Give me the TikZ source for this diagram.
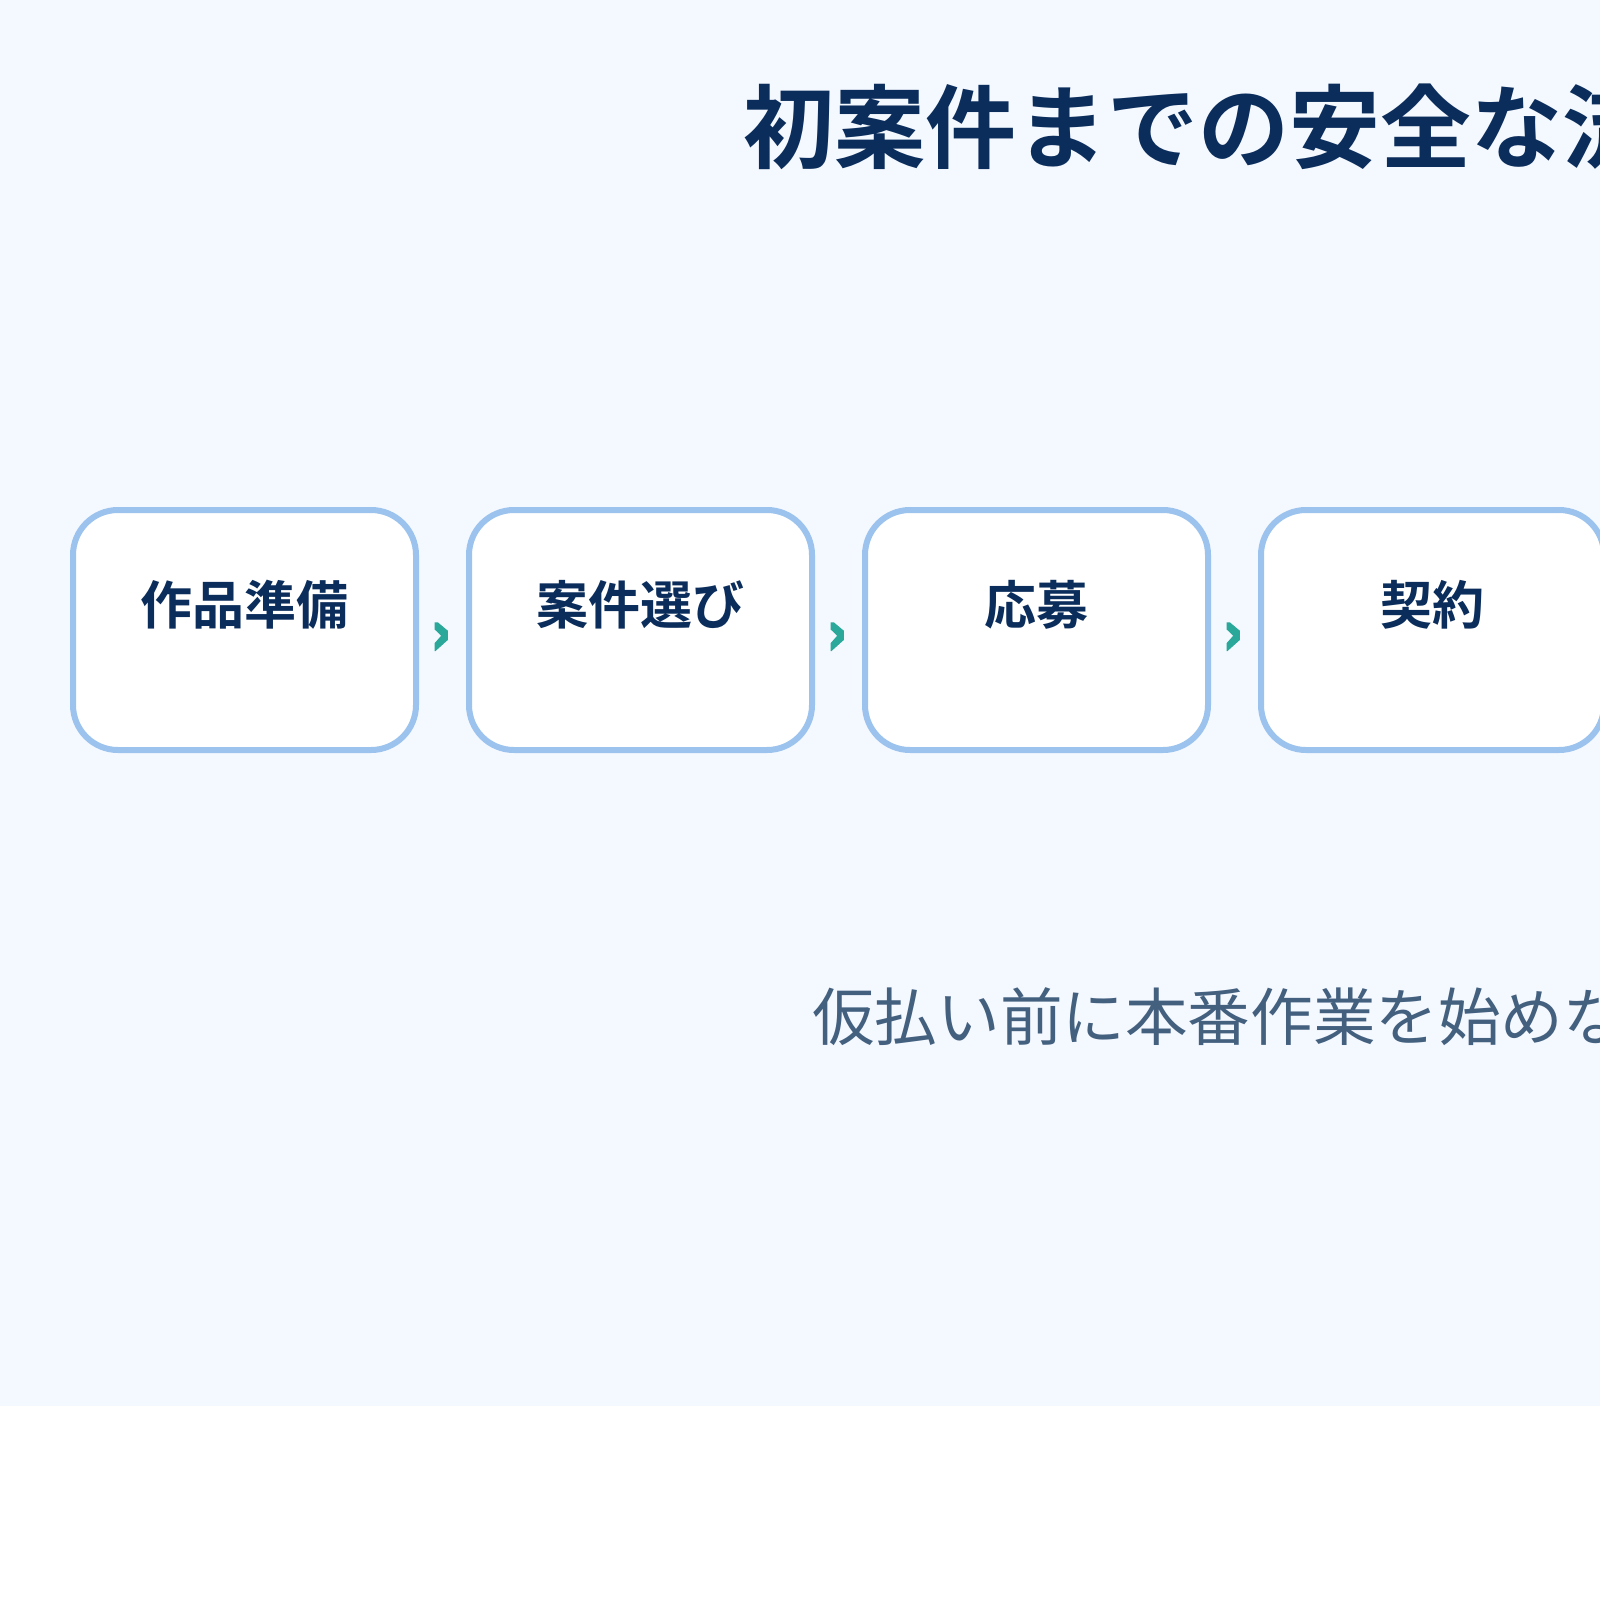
\documentclass[tikz,border=0pt]{standalone}
\usepackage{fontspec}
\newfontfamily\jp{Noto Sans CJK JP}[BoldFont={Noto Sans CJK JP Bold}]
\usetikzlibrary{calc}
\definecolor{bgblue}{HTML}{F4F8FF}
\definecolor{navy}{HTML}{0B2D5B}
\definecolor{boxline}{HTML}{9CC3EE}
\definecolor{slate}{HTML}{43607F}
\definecolor{teal}{HTML}{2AA89A}
\tikzset{
  stepbox/.style={draw=boxline, line width=6pt, fill=white, rounded corners=45pt,
    minimum width=343pt, minimum height=240pt, inner sep=0pt},
  boxtext/.style={inner sep=0pt, text=navy, font=\jp\bfseries\fontsize{52}{60}\selectfont},
  titletext/.style={inner sep=0pt, anchor=west, text=navy, font=\jp\bfseries\fontsize{91}{100}\selectfont},
  notetext/.style={inner sep=0pt, anchor=west, text=slate, font=\jp\fontsize{62.6}{70}\selectfont},
  chev/.style={fill=teal}
}
\begin{document}
\begin{tikzpicture}[x=1pt,y=-1pt]
\useasboundingbox (0,0) rectangle (1600,1600);
\clip (0,0) rectangle (1600,1600);
\fill[white] (0,0) rectangle (1600,1600);
\fill[bgblue] (0,0) rectangle (1606,1406);
\node[titletext] (title) at (743,126.5) {初案件までの安全な流れ};
\node[stepbox] (b1) at (244.5,630) {};
\node[stepbox] (b2) at (640.5,630) {};
\node[stepbox] (b3) at (1036.5,630) {};
\node[stepbox] (b4) at (1432.5,630) {};
\node[boxtext] (t1) at (244.5,605) {作品準備};
\node[boxtext] (t2) at (640.5,605) {案件選び};
\node[boxtext] (t3) at (1036.5,605) {応募};
\node[boxtext] (t4) at (1432.5,605) {契約};
\foreach \a/\b in {b1/b2,b2/b3,b3/b4}{
  \begin{scope}[shift={($(\a.east)!0.5!(\b.west)+(-1.3,6.5)$)}]
    \fill[chev] (-6.7,-14.2) -- (-3.4,-14.2) -- (6.6,-5.8) -- (6.6,3.5) -- (-5.7,14.5)
      -- (-6.7,14.5) -- (-6.7,6.8) -- (0,-0.8) -- (-6.7,-7.2) -- cycle;
  \end{scope}
}
\node[notetext] (note) at (812,1017) {仮払い前に本番作業を始めない};
\end{tikzpicture}
\end{document}
